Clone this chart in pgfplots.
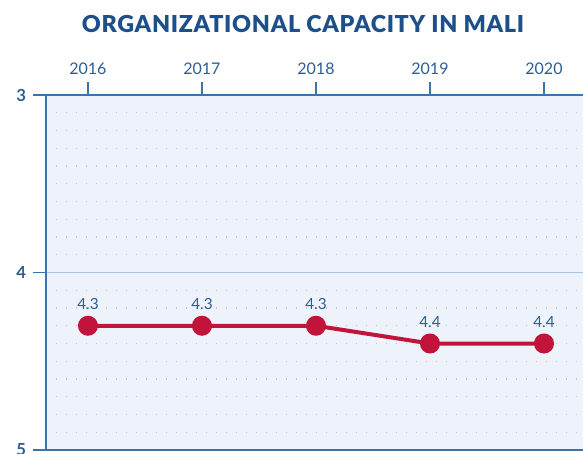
\documentclass[border=0pt]{standalone}
\usepackage{pgfplots}
\pgfplotsset{compat=1.18}
\usepackage{fontspec}
\setmainfont{Lato}
\newfontfamily\titlefont{Lato Black}
\definecolor{titleblue}{HTML}{1D4F8A}
\definecolor{lblblue}{HTML}{2C5E94}
\definecolor{axblue}{HTML}{3A74AA}
\definecolor{bgblue}{HTML}{EEF3FB}
\definecolor{gridblue}{HTML}{A3C6E6}
\definecolor{dotgray}{HTML}{BEC6D0}
\definecolor{linered}{HTML}{C2133B}

\begin{document}
\begin{tikzpicture}
\path[use as bounding box] (0,0) rectangle (437.25pt,340.5pt);
\clip (0,0) rectangle (437.25pt,340.5pt);
\begin{axis}[
  at={(34.5pt,3pt)}, anchor=south west,
  scale only axis, width=407.7pt, height=266.25pt,
  xmin=2015.632, xmax=2020.4,
  ymin=3, ymax=5, y dir=reverse,
  xtick={2016,2017,2018,2019,2020},
  ytick={3,4,5},
  xtick pos=upper, xticklabel pos=upper, ytick pos=left,
  tick align=outside, major tick length=9.5pt,
  minor y tick num=9, minor tick length=0pt,
  axis background/.style={fill=bgblue},
  axis line style={axblue, line width=1.3pt},
  every tick/.style={axblue, line width=1.3pt},
  ymajorgrids, yminorgrids,
  major grid style={gridblue, line width=1pt},
  minor grid style={dotgray, line width=0.8pt, dash pattern=on 0.8pt off 6.7pt},
  /pgf/number format/assume math mode=true,
  xticklabel style={/pgf/number format/1000 sep=, font=\fontsize{12}{13}\selectfont, text=lblblue, yshift=2pt},
  yticklabel style={font=\fontsize{12.5}{14}\selectfont\bfseries, text=lblblue, xshift=-2pt},
  nodes near coords,
  every node near coord/.style={font=\fontsize{11.5}{13}\selectfont, text=lblblue, anchor=south, yshift=7pt,
    /pgf/number format/fixed, /pgf/number format/precision=1, /pgf/number format/fixed zerofill},
]
\addplot[linered, line width=3pt, mark=*, mark size=6pt, mark options={fill=linered, draw=linered}]
  coordinates {(2016,4.3)(2017,4.3)(2018,4.3)(2019,4.4)(2020,4.4)};
\end{axis}
\node[font=\titlefont\fontsize{17.5}{20}\selectfont, text=titleblue] at (227.25pt,322.5pt)
  {\addfontfeatures{LetterSpace=3}ORGANIZATIONAL CAPACITY IN MALI};
\end{tikzpicture}
\end{document}
